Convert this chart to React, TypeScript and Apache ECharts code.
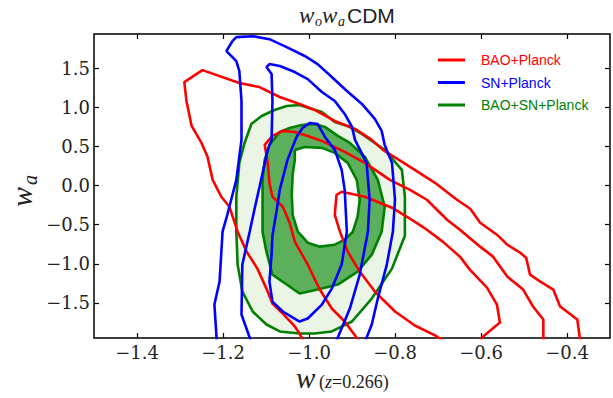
import React, { useEffect, useRef } from "react";
import * as echarts from "echarts";

const X_TICKS = [-1.4, -1.2, -1.0, -0.8, -0.6, -0.4];
const Y_TICKS = [-1.5, -1.0, -0.5, 0.0, 0.5, 1.0, 1.5];

const RED_OUTER: number[][] = [
  [-1.012, -2.0], [-1.022, -1.892], [-1.033, -1.802], [-1.061, -1.637], [-1.085, -1.509],
  [-1.099, -1.318], [-1.12, -1.062], [-1.145, -0.845], [-1.166, -0.59], [-1.185, -0.271],
  [-1.204, -0.143], [-1.224, 0.074], [-1.236, 0.368], [-1.25, 0.546], [-1.273, 0.764],
  [-1.285, 1.083], [-1.29, 1.325], [-1.248, 1.478], [-1.162, 1.312], [-1.115, 1.261],
  [-1.068, 1.134], [-1.022, 1.045], [-0.987, 0.968], [-0.94, 0.827], [-0.893, 0.725],
  [-0.854, 0.585], [-0.828, 0.457], [-0.765, 0.24], [-0.707, 0.036], [-0.656, -0.181],
  [-0.625, -0.296], [-0.602, -0.475], [-0.563, -0.628], [-0.539, -0.756], [-0.509, -0.858],
  [-0.495, -0.922], [-0.486, -1.139], [-0.462, -1.228], [-0.432, -1.33], [-0.416, -1.547],
  [-0.376, -1.713], [-0.369, -2.0],
];
const RED_MID: number[][] = [
  [-0.882, -2.0], [-0.917, -1.739], [-0.947, -1.573], [-0.975, -1.33], [-1.003, -1.011],
  [-1.033, -0.717], [-1.045, -0.475], [-1.061, -0.271], [-1.085, -0.143], [-1.092, 0.036],
  [-1.096, 0.291], [-1.103, 0.521], [-1.085, 0.636], [-1.061, 0.7], [-1.033, 0.687],
  [-1.003, 0.636], [-0.97, 0.572], [-0.917, 0.432], [-0.87, 0.291], [-0.812, 0.074],
  [-0.765, -0.054], [-0.726, -0.181], [-0.679, -0.437], [-0.649, -0.564], [-0.602, -0.781],
  [-0.572, -0.909], [-0.539, -1.164], [-0.502, -1.33], [-0.479, -1.547], [-0.455, -1.713],
  [-0.455, -2.0],
];
const RED_INNER: number[][] = [
  [-0.684, -2.0], [-0.707, -1.917], [-0.754, -1.79], [-0.8, -1.611], [-0.847, -1.356],
  [-0.882, -1.1], [-0.91, -0.845], [-0.928, -0.59], [-0.94, -0.373], [-0.936, -0.117],
  [-0.924, -0.079], [-0.87, -0.143], [-0.807, -0.283], [-0.758, -0.449], [-0.726, -0.564],
  [-0.689, -0.717], [-0.649, -0.909], [-0.626, -1.075], [-0.586, -1.305], [-0.563, -1.522],
  [-0.556, -1.752], [-0.595, -1.93], [-0.604, -2.0],
];
const BLUE_OUTER: number[][] = [
  [-0.87, -2.0], [-0.854, -1.777], [-0.84, -1.445], [-0.819, -1.011], [-0.805, -0.59],
  [-0.8, -0.181], [-0.807, 0.291], [-0.824, 0.521], [-0.831, 0.7], [-0.847, 0.853],
  [-0.877, 1.045], [-0.917, 1.236], [-0.947, 1.389], [-0.98, 1.555], [-1.01, 1.659],
  [-1.052, 1.772], [-1.092, 1.874], [-1.131, 1.912], [-1.169, 1.9], [-1.178, 1.849],
  [-1.192, 1.722], [-1.169, 1.593], [-1.162, 1.466], [-1.157, 1.083], [-1.157, 0.585],
  [-1.169, 0.074], [-1.19, -0.373], [-1.201, -0.59], [-1.208, -1.228], [-1.22, -1.522],
  [-1.215, -1.943], [-1.215, -2.0],
];
const BLUE_MID: number[][] = [
  [-1.134, -2.0], [-1.138, -1.943], [-1.157, -1.65], [-1.155, -1.011], [-1.138, -0.59],
  [-1.127, -0.309], [-1.115, -0.015], [-1.096, 0.457], [-1.087, 0.585], [-1.085, 1.083],
  [-1.087, 1.427], [-1.099, 1.517], [-1.092, 1.555], [-1.068, 1.53], [-1.033, 1.453],
  [-1.003, 1.363], [-0.97, 1.198], [-0.94, 1.083], [-0.917, 0.917], [-0.9, 0.751],
  [-0.893, 0.585], [-0.866, 0.291], [-0.859, -0.181], [-0.863, -0.59], [-0.882, -1.139],
  [-0.905, -1.573], [-0.933, -1.943], [-0.938, -2.0],
];
const BLUE_INNER: number[][] = [
  [-1.029, 0.623], [-1.015, 0.738], [-0.998, 0.802], [-0.98, 0.789], [-0.963, 0.623],
  [-0.94, 0.457], [-0.924, 0.202], [-0.917, -0.054], [-0.912, -0.59], [-0.924, -1.011],
  [-0.947, -1.318], [-0.97, -1.522], [-1.003, -1.701], [-1.022, -1.739], [-1.061, -1.611],
  [-1.085, -1.484], [-1.092, -1.228], [-1.087, -0.883], [-1.085, -0.641], [-1.075, -0.309],
  [-1.068, -0.054], [-1.05, 0.329], [-1.029, 0.623],
];
const GREEN_2S: number[][] = [
  [-1.022, 1.032], [-0.97, 0.942], [-0.94, 0.815], [-0.91, 0.764], [-0.877, 0.661],
  [-0.824, 0.457], [-0.784, 0.202], [-0.777, -0.143], [-0.777, -0.641], [-0.807, -1.062],
  [-0.854, -1.445], [-0.9, -1.739], [-0.947, -1.866], [-0.987, -1.892], [-1.022, -1.892],
  [-1.068, -1.866], [-1.099, -1.777], [-1.131, -1.611], [-1.155, -1.356], [-1.166, -1.011],
  [-1.169, -0.59], [-1.169, -0.143], [-1.162, 0.291], [-1.15, 0.546], [-1.134, 0.789],
  [-1.11, 0.891], [-1.08, 0.968], [-1.052, 1.019], [-1.022, 1.032],
];
const GREEN_1S: number[][] = [
  [-1.017, 0.776], [-0.987, 0.789], [-0.963, 0.751], [-0.933, 0.636], [-0.905, 0.546],
  [-0.87, 0.368], [-0.84, 0.074], [-0.824, -0.271], [-0.831, -0.59], [-0.854, -0.883],
  [-0.887, -1.1], [-0.933, -1.266], [-0.98, -1.33], [-1.022, -1.381], [-1.052, -1.266],
  [-1.085, -1.139], [-1.099, -0.845], [-1.108, -0.59], [-1.108, -0.347], [-1.108, 0.074],
  [-1.103, 0.329], [-1.092, 0.521], [-1.068, 0.687], [-1.045, 0.738], [-1.017, 0.776],
];
const GREEN_HOLE: number[][] = [
  [-1.033, 0.457], [-1.01, 0.495], [-0.97, 0.483], [-0.94, 0.419], [-0.91, 0.291],
  [-0.889, 0.074], [-0.882, -0.181], [-0.887, -0.398], [-0.898, -0.59], [-0.917, -0.692],
  [-0.94, -0.756], [-0.975, -0.781], [-1.003, -0.73], [-1.026, -0.59], [-1.038, -0.373],
  [-1.04, -0.117], [-1.038, 0.138], [-1.033, 0.329], [-1.033, 0.457],
];

const RED = "#ff0000";
const BLUE = "#0000ff";
const GREEN = "#008000";

const fmt = (v: number) => v.toFixed(1).replace("-", "\u2212");

function fill(name: string, pts: number[][], color: string, z: number) {
  return {
    type: "custom",
    name,
    silent: true,
    z,
    clip: true,
    data: [pts[0]],
    renderItem: (_p: any, api: any) => ({
      type: "polygon",
      shape: { points: pts.map((p) => api.coord(p)) },
      style: { fill: color },
    }),
  };
}
function line(name: string, pts: number[][], color: string, z: number) {
  return {
    type: "line",
    name,
    data: pts,
    symbol: "none",
    showSymbol: false,
    clip: true,
    silent: true,
    z,
    lineStyle: { color, width: 2.6 },
    itemStyle: { color },
  };
}

export default function App() {
  const ref = useRef<HTMLDivElement>(null);
  useEffect(() => {
    if (!ref.current) return;
    const chart = echarts.init(ref.current, undefined, { renderer: "svg" });
    const serif = "'DejaVu Serif', serif";
    const ital = "'Liberation Serif', 'DejaVu Serif', serif";
    const xBase = {
      type: "value",
      min: -1.5,
      max: -0.3,
      axisLine: { show: false, onZero: false },
      splitLine: { show: false },
    };
    const yBase = {
      type: "value",
      min: -1.95,
      max: 1.94,
      axisLine: { show: false, onZero: false },
      splitLine: { show: false },
    };
    const tick = (vals: number[]) => ({
      inside: true,
      length: 5,
      customValues: vals,
      lineStyle: { color: "#000", width: 1.2 },
    });
    chart.setOption({
      animation: false,
      backgroundColor: "#fff",
      grid: { left: 94, right: 3, top: 34, bottom: 60, show: true, borderColor: "#000", borderWidth: 1.5 },
      xAxis: [
        {
          ...xBase,
          position: "bottom",
          axisTick: tick(X_TICKS),
          axisLabel: { customValues: X_TICKS, formatter: fmt, fontFamily: serif, fontSize: 18, color: "#222", margin: 5 },
        },
        { ...xBase, position: "top", axisTick: tick(X_TICKS), axisLabel: { show: false } },
      ],
      yAxis: [
        {
          ...yBase,
          position: "left",
          axisTick: tick(Y_TICKS),
          axisLabel: { customValues: Y_TICKS, formatter: fmt, fontFamily: serif, fontSize: 18, color: "#222", margin: 4 },
        },
        { ...yBase, position: "right", axisTick: tick(Y_TICKS), axisLabel: { show: false } },
      ],
      legend: {
        orient: "vertical",
        left: 433,
        top: 47,
        icon: "rect",
        itemWidth: 27,
        itemHeight: 3,
        itemGap: 6.5,
        textStyle: { fontFamily: "'Liberation Sans', Arial, sans-serif", fontSize: 14, lineHeight: 16, padding: [0, 0, 0, 11] },
        data: [
          { name: "BAO+Planck", textStyle: { color: RED } },
          { name: "SN+Planck", textStyle: { color: BLUE } },
          { name: "BAO+SN+Planck", textStyle: { color: GREEN } },
        ],
      },
      graphic: [
        // title
        { type: "text", left: 299, top: 4, style: { text: "w", font: `italic 23px ${ital}`, fill: "#222" } },
        { type: "text", left: 315, top: 14, style: { text: "o", font: `italic 14px ${ital}`, fill: "#222" } },
        { type: "text", left: 322, top: 4, style: { text: "w", font: `italic 23px ${ital}`, fill: "#222" } },
        { type: "text", left: 338, top: 14, style: { text: "a", font: `italic 14px ${ital}`, fill: "#222" } },
        { type: "text", left: 347, top: 5, style: { text: "CDM", font: "21px 'Liberation Sans', Arial, sans-serif", fill: "#222" } },
        // x label
        { type: "text", left: 296, top: 363, style: { text: "w", font: `italic 29px ${ital}`, fill: "#222" } },
        {
          type: "text",
          left: 319,
          top: 373,
          style: {
            text: "{a|(}{b|z}{a|=0.266)}",
            rich: {
              a: { font: `18px ${ital}`, fill: "#222" },
              b: { font: `italic 18px ${ital}`, fill: "#222" },
            },
          },
        },
        // y label
        {
          type: "group",
          x: 22,
          y: 187,
          rotation: Math.PI / 2,
          children: [
            { type: "text", x: -20, y: -16, style: { text: "w", font: `italic 30px ${ital}`, fill: "#222" } },
            { type: "text", x: 2, y: -2, style: { text: "a", font: `italic 20px ${ital}`, fill: "#222" } },
          ],
        },
      ],
      series: [
        fill("f2", GREEN_2S, "#eaf5e6", 1),
        fill("f1", GREEN_1S, "#5cb05c", 2),
        fill("fh", GREEN_HOLE, "#ffffff", 3),
        line("BAO+SN+Planck", GREEN_2S, GREEN, 4),
        line("BAO+SN+Planck", GREEN_1S, GREEN, 4),
        line("BAO+SN+Planck", GREEN_HOLE, GREEN, 4),
        line("BAO+Planck", RED_OUTER, RED, 5),
        line("BAO+Planck", RED_MID, RED, 5),
        line("BAO+Planck", RED_INNER, RED, 5),
        line("SN+Planck", BLUE_OUTER, BLUE, 6),
        line("SN+Planck", BLUE_MID, BLUE, 6),
        line("SN+Planck", BLUE_INNER, BLUE, 6),
      ],
    });
    return () => chart.dispose();
  }, []);
  return (
    <div
      ref={ref}
      style={{ position: "fixed", left: 0, top: 0, width: 613, height: 398, background: "#fff" }}
    />
  );
}
